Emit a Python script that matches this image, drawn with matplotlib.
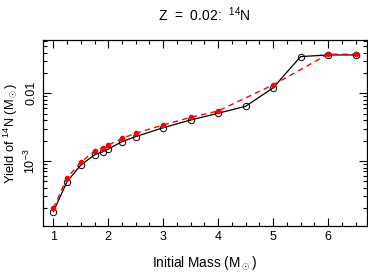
import matplotlib
matplotlib.use('Agg')
import matplotlib.pyplot as plt
from matplotlib.ticker import MultipleLocator, LogLocator, NullFormatter, FixedLocator, FixedFormatter

plt.rcParams['font.family'] = 'Liberation Sans'
plt.rcParams['mathtext.fontset'] = 'custom'
plt.rcParams['mathtext.rm'] = 'Liberation Sans'

# black open circles (model 1)
mass_a = [1.0, 1.25, 1.5, 1.75, 1.9, 2.0, 2.25, 2.5, 3.0, 3.5, 4.0, 4.5, 5.0, 5.5, 6.0, 6.5]
yield_a = [1.78e-4, 4.95e-4, 8.7e-4, 1.23e-3, 1.37e-3, 1.50e-3, 1.93e-3, 2.29e-3,
           3.10e-3, 4.03e-3, 5.07e-3, 6.43e-3, 0.0120, 0.0348, 0.0368, 0.0368]

# red filled dots (model 2)
mass_b = [1.0, 1.25, 1.5, 1.75, 1.9, 2.0, 2.25, 2.5, 3.0, 3.5, 4.0, 5.0, 6.0, 6.5]
yield_b = [2.0e-4, 5.67e-4, 9.55e-4, 1.41e-3, 1.57e-3, 1.72e-3, 2.16e-3, 2.56e-3,
           3.40e-3, 4.42e-3, 5.48e-3, 0.0133, 0.0377, 0.0378]

fig = plt.figure(figsize=(3.68, 2.73), dpi=100)
ax = fig.add_axes([42.7/368, 1 - 225.7/273, (366.5 - 42.7)/368, (225.7 - 40)/273])

ax.plot(mass_a, yield_a, color='black', lw=0.9, marker='o', ms=4.6,
        mfc='none', mec='black', mew=0.7)
ax.plot(mass_b, yield_b, color='red', lw=1.0, ls=(0, (4, 3)), marker='o', ms=3,
        mfc='red', mec='red')

ax.set_yscale('log')
ax.set_xlim(0.807, 6.70)
ax.set_ylim(1.107e-4, 0.0612)

ax.xaxis.set_major_locator(MultipleLocator(1))
ax.xaxis.set_minor_locator(MultipleLocator(0.25))
ax.yaxis.set_major_locator(FixedLocator([1e-3, 1e-2]))
ax.yaxis.set_major_formatter(FixedFormatter(['$10^{-3}$', '0.01']))
ax.yaxis.set_minor_locator(LogLocator(base=10, subs=range(2, 10)))
ax.yaxis.set_minor_formatter(NullFormatter())

ax.tick_params(which='both', direction='in', top=True, right=True, labelsize=9, width=0.8)
ax.tick_params(which='major', length=6)
ax.tick_params(which='minor', length=3)
for lab in ax.get_yticklabels():
    lab.set_rotation(90)
    lab.set_va('center')
for s in ax.spines.values():
    s.set_linewidth(0.9)

ax.set_xlabel('Initial Mass (M$_\\odot$)', fontsize=9.8, labelpad=8)
ax.set_ylabel('Yield of $^{14}$N (M$_\\odot$)', fontsize=9.3, va='center')
ax.yaxis.set_label_coords(-0.098, 0.5)
fig.text(204.6/368, 1 - 15/273, 'Z  =  0.02:  $^{14}$N', ha='center', va='center', fontsize=10)

fig.savefig('out.png', dpi=100)
